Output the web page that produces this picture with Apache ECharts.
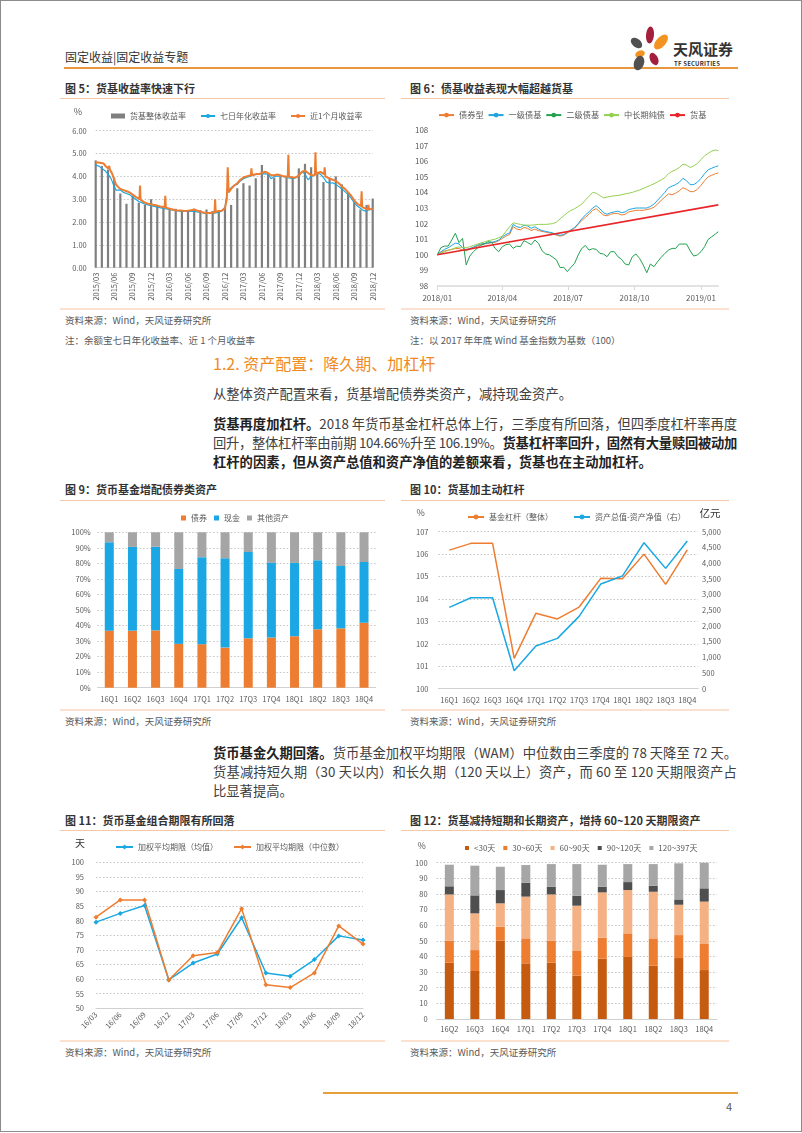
<!DOCTYPE html>
<html><head><meta charset="utf-8">
<script src="https://cdn.jsdelivr.net/npm/echarts@6/dist/echarts.min.js"></script>
<style>
html,body{margin:0;padding:0;background:#fff;}
body{width:802px;height:1133px;position:relative;overflow:hidden;font-family:"Noto Sans CJK SC","Noto Sans",sans-serif;color:#333;}
.abs{position:absolute;white-space:nowrap;}
.frame{position:absolute;left:0;top:0;width:800px;height:1130px;border:1px solid #8c8c8c;}
.ftitle{font-size:11px;font-weight:bold;color:#333;line-height:14px;}
.src{font-size:9.5px;color:#595959;line-height:12px;}
.para{font-size:13.3px;color:#404040;line-height:18px;}
.para b{color:#222;font-weight:bold;}
.chart{position:absolute;}
.tl{position:absolute;height:1px;background:#f4c7a6;}
.bl{position:absolute;height:2px;background:#fbe1cf;}
</style></head>
<body>
<div class="frame"></div>
<!-- header -->
<div class="abs" style="left:65px;top:49px;font-size:12px;line-height:16px;color:#333;">固定收益|固定收益专题</div>
<div class="abs" style="left:64px;top:67px;width:674px;height:2px;background:#e8973c;"></div>
<svg class="abs" style="left:624px;top:22px" width="50" height="52" viewBox="624 22 50 52">
<ellipse cx="650" cy="35" rx="4" ry="8.5" fill="#a31f3d" transform="rotate(5 650 35)"/>
<ellipse cx="661" cy="42" rx="4.8" ry="9" fill="#f39322" transform="rotate(42 661 42)"/>
<ellipse cx="636.5" cy="43" rx="4.3" ry="6.5" fill="#505050" transform="rotate(-50 636.5 43)"/>
<ellipse cx="640" cy="54" rx="5" ry="3.4" fill="#f39322" transform="rotate(-20 640 54)"/>
<ellipse cx="639" cy="63" rx="5" ry="7.5" fill="#505050" transform="rotate(20 639 63)"/>
<ellipse cx="654" cy="59" rx="4" ry="6.5" fill="#a31f3d" transform="rotate(-25 654 59)"/>
</svg>
<div class="abs" style="left:673px;top:40px;font-size:15px;line-height:18px;color:#333;font-weight:bold;">天风证券</div>
<div class="abs" style="left:674px;top:60px;font-size:6px;line-height:7px;color:#333;font-weight:bold;letter-spacing:0.2px;">TF SECURITIES</div>

<!-- figure 5/6 frames -->
<div class="abs ftitle" style="left:65px;top:81px;">图 5：货基收益率快速下行</div>
<div class="tl" style="left:60px;top:98px;width:325px;"></div>
<div class="bl" style="left:60px;top:308px;width:325px;"></div>
<div class="abs src" style="left:65px;top:314px;">资料来源：Wind，天风证券研究所</div>
<div class="abs src" style="left:65px;top:334px;">注：余额宝七日年化收益率、近 1 个月收益率</div>

<div class="abs ftitle" style="left:410px;top:81px;">图 6：债基收益表现大幅超越货基</div>
<div class="tl" style="left:401px;top:98px;width:328px;"></div>
<div class="bl" style="left:401px;top:308px;width:328px;"></div>
<div class="abs src" style="left:410px;top:314px;">资料来源：Wind，天风证券研究所</div>
<div class="abs src" style="left:410px;top:334px;">注：以 2017 年年底 Wind 基金指数为基数（100）</div>

<!-- section text -->
<div class="abs" style="left:213px;top:353px;font-size:16px;line-height:20px;color:#f08a24;">1.2. 资产配置：降久期、加杠杆</div>
<div class="abs para" style="left:213px;top:385px;">从整体资产配置来看，货基增配债券类资产，减持现金资产。</div>
<div class="abs para j" data-w="524" style="left:213px;top:415px;"><b>货基再度加杠杆。</b>2018 年货币基金杠杆总体上行，三季度有所回落，但四季度杠杆率再度</div>
<div class="abs para j" data-w="524" style="left:213px;top:434px;">回升，整体杠杆率由前期 104.66%升至 106.19%。<b>货基杠杆率回升，固然有大量赎回被动加</b></div>
<div class="abs para" style="left:213px;top:453px;"><b>杠杆的因素，但从资产总值和资产净值的差额来看，货基也在主动加杠杆。</b></div>

<!-- figure 9/10 frames -->
<div class="abs ftitle" style="left:65px;top:482px;">图 9：货币基金增配债券类资产</div>
<div class="tl" style="left:60px;top:500px;width:325px;"></div>
<div class="bl" style="left:60px;top:709px;width:325px;"></div>
<div class="abs src" style="left:65px;top:715px;">资料来源：Wind，天风证券研究所</div>

<div class="abs ftitle" style="left:410px;top:482px;">图 10：货基加主动杠杆</div>
<div class="tl" style="left:401px;top:500px;width:328px;"></div>
<div class="bl" style="left:401px;top:709px;width:328px;"></div>
<div class="abs src" style="left:410px;top:715px;">资料来源：Wind，天风证券研究所</div>

<div class="abs para j" data-w="524" style="left:213px;top:744px;"><b>货币基金久期回落。</b>货币基金加权平均期限（WAM）中位数由三季度的 78 天降至 72 天。</div>
<div class="abs para j" data-w="524" style="left:213px;top:763px;">货基减持短久期（30 天以内）和长久期（120 天以上）资产，而 60 至 120 天期限资产占</div>
<div class="abs para" style="left:213px;top:782px;">比显著提高。</div>

<!-- figure 11/12 frames -->
<div class="abs ftitle" style="left:65px;top:813px;">图 11：货币基金组合期限有所回落</div>
<div class="tl" style="left:60px;top:830px;width:325px;"></div>
<div class="bl" style="left:60px;top:1040px;width:325px;"></div>
<div class="abs src" style="left:65px;top:1046px;">资料来源：Wind，天风证券研究所</div>

<div class="abs ftitle" style="left:410px;top:813px;">图 12：货基减持短期和长期资产，增持 60~120 天期限资产</div>
<div class="tl" style="left:401px;top:830px;width:328px;"></div>
<div class="bl" style="left:401px;top:1040px;width:328px;"></div>
<div class="abs src" style="left:410px;top:1046px;">资料来源：Wind，天风证券研究所</div>

<!-- footer -->
<div class="abs" style="left:323px;top:1092px;width:415px;height:2px;background:#e5a03c;"></div>
<div class="abs" style="left:726px;top:1099px;font-size:11px;line-height:14px;color:#595959;">4</div>

<script>
// ---------------- DATA ----------------
// Fig 5: monthly bars 2015/03 .. 2018/12 (index 0..45)
const fig5Ticks = ['2015/03','2015/06','2015/09','2015/12','2016/03','2016/06','2016/09','2016/12','2017/03','2017/06','2017/09','2017/12','2018/03','2018/06','2018/09','2018/12'];
const fig5Bars = [4.70,4.45,4.30,3.95,3.25,2.80,3.15,2.85,2.75,3.00,
  2.72,2.68,2.62,2.58,2.52,2.50,2.58,2.52,2.55,2.48,2.50,2.62,
  2.75,3.48,3.70,3.60,3.92,4.50,4.10,3.95,4.00,3.95,3.90,4.35,
  4.55,4.40,4.20,3.75,3.95,4.00,3.65,3.30,2.90,2.55,2.75,3.03];
// [month index, value]
const fig5Yield7d = [[0,4.5],[0.5,4.45],[1,4.35],[1.5,4.25],[2,4.1],[2.5,3.9],[3,3.55],[3.3,3.4],[3.6,3.45],[4,3.4],[4.5,3.3],[5,3.25],[5.5,3.2],[6,3.1],[6.5,3.0],[7,2.9],[7.5,2.85],[8,2.78],[9,2.72],[10,2.65],[11,2.6],[12,2.55],[13,2.5],[14,2.47],[15,2.47],[16,2.47],[17,2.42],[18,2.38],[19,2.38],[20,2.42],[20.5,2.5],[21,2.65],[21.3,3.2],[21.6,3.4],[22,3.5],[22.5,3.6],[23,3.65],[23.5,3.8],[24,3.9],[24.5,3.95],[25,4.0],[26,4.08],[27,4.12],[28,4.1],[28.5,3.9],[29,4.0],[30,4.02],[31,3.95],[32,3.9],[33,4.0],[33.5,4.2],[34,4.1],[34.5,3.85],[35,4.0],[35.5,4.05],[36,4.15],[36.5,4.1],[37,3.95],[37.5,3.75],[38,3.7],[38.5,3.72],[39,3.65],[40,3.45],[41,3.2],[41.5,3.05],[42,2.85],[42.5,2.7],[43,2.6],[43.5,2.5],[44,2.48],[44.5,2.55],[45,2.55]];
const fig5Yield1m = [[0,4.62],[0.3,4.55],[0.7,4.6],[1,4.52],[1.3,4.56],[1.6,4.45],[2,4.35],[2.1,4.36],[2.2,4.46],[2.3,4.3],[2.7,4.1],[3,3.85],[3.3,3.65],[3.6,3.55],[4,3.45],[4.5,3.4],[5,3.35],[5.5,3.3],[6,3.2],[6.5,3.1],[7.1,3.0],[7.2,3.6],[7.3,2.97],[8,2.85],[8.5,2.8],[9,2.78],[9.5,2.75],[10,2.72],[10.5,2.68],[11.2,2.65],[11.3,3.15],[11.4,2.63],[12,2.58],[12.5,2.55],[13,2.52],[13.5,2.5],[14,2.5],[14.5,2.48],[15,2.5],[15.5,2.52],[16,2.55],[16.5,2.5],[17,2.45],[17.5,2.42],[18,2.4],[18.5,2.4],[19.3,2.42],[19.4,3.0],[19.5,2.45],[20,2.48],[20.5,2.5],[21,2.6],[21.3,3.0],[21.45,4.4],[21.6,3.3],[22,3.45],[22.5,3.6],[23,3.7],[23.5,3.85],[24,3.95],[24.5,4.0],[25.2,4.05],[25.3,4.35],[25.4,4.05],[26,4.1],[26.5,4.1],[27,4.15],[27.5,4.2],[28,4.15],[28.5,4.05],[29,4.05],[29.5,4.08],[30,4.05],[30.5,4.0],[31.2,3.98],[31.3,4.95],[31.4,3.98],[32,3.95],[32.5,3.95],[33,4.05],[33.5,4.2],[34,4.25],[34.5,4.15],[35,4.05],[35.6,4.05],[35.7,5.05],[35.8,4.1],[36,4.15],[36.5,4.2],[37.1,4.1],[37.2,4.4],[37.3,4.0],[38,3.9],[38.5,3.85],[39,3.8],[39.5,3.7],[40,3.55],[40.5,3.45],[41,3.3],[41.5,3.15],[42,2.95],[42.5,2.8],[43.1,2.7],[43.2,3.35],[43.3,2.65],[44.2,2.55],[44.3,2.75],[44.4,2.55],[45,2.58]];

// Fig 6: days since 2018-01-01
const fig6Days = [0,5,10,15,20,25,30,35,40,45,50,55,60,65,70,75,80,85,90,95,100,105,110,115,120,125,130,135,140,145,150,155,160,165,170,175,180,185,190,195,200,205,210,215,220,225,230,235,240,245,250,255,260,265,270,275,280,285,290,295,300,305,310,315,320,325,330,335,340,345,350,355,360,365,370,375,380,385,389];
const fig6TickDays = [0,90,181,273,365];
const fig6TickLabels = ['2018/01','2018/04','2018/07','2018/10','2019/01'];
const fig6Bond = [100.0,100.15,100.25,100.3,100.35,100.4,100.4,100.3,100.25,100.35,
  100.45,100.55,100.65,100.7,100.72,100.78,100.8,100.9,101.05,101.2,
  101.3,101.8,101.65,101.6,101.75,101.7,101.55,101.65,101.55,101.5,
  101.45,101.4,101.35,101.25,101.2,101.25,101.4,101.55,101.7,101.95,
  102.2,102.4,102.6,102.85,102.95,102.75,102.55,102.5,102.6,102.65,
  102.65,102.55,102.6,102.75,102.8,102.85,102.85,102.85,102.9,102.95,
  103.05,103.25,103.5,103.7,103.9,103.85,103.95,104.1,104.3,104.2,
  104.05,104.05,104.2,104.45,104.75,105.0,105.1,105.2,105.25];
const fig6Primary = [100.0,100.2,100.35,100.45,100.6,100.75,100.7,100.45,100.3,100.4,
  100.5,100.6,100.7,100.72,100.75,100.8,100.85,100.95,101.15,101.3,
  101.4,101.95,101.8,101.75,101.9,101.85,101.7,101.8,101.65,101.55,
  101.5,101.45,101.4,101.3,101.25,101.3,101.45,101.6,101.75,102.0,
  102.3,102.55,102.75,103.0,103.15,102.95,102.7,102.6,102.7,102.75,
  102.8,102.7,102.75,102.9,102.95,103.0,103.0,103.0,103.0,103.1,
  103.25,103.5,103.75,104.0,104.3,104.4,104.5,104.65,104.9,104.75,
  104.5,104.5,104.65,104.9,105.2,105.45,105.55,105.65,105.7];
const fig6Secondary = [100.0,100.46,100.56,100.56,100.95,101.38,100.78,101.05,99.35,99.92,
  100.2,100.41,100.6,100.69,100.84,100.82,100.41,100.2,100.52,100.65,
  100.69,100.41,100.56,100.52,100.91,100.78,100.65,100.95,100.74,100.26,
  100.05,100.0,99.84,99.67,99.18,99.2,98.92,99.2,99.45,99.99,
  100.41,100.6,100.3,100.39,100.35,100.09,100.05,99.88,100.2,100.2,
  99.88,99.71,99.41,99.35,99.88,100.05,99.77,99.35,98.85,99.41,
  99.24,99.56,99.84,100.09,100.3,100.41,100.41,100.69,100.69,100.69,
  100.26,99.92,99.99,100.2,100.52,100.99,101.16,101.33,101.48];
const fig6PureLong = [100.0,100.1,100.2,100.28,100.35,100.45,100.5,100.48,100.45,100.52,
  100.6,100.68,100.75,100.82,100.9,100.95,101.0,101.1,101.2,101.5,
  101.8,102.05,102.0,101.95,101.9,101.9,101.9,101.92,101.95,101.95,
  101.95,101.97,102.0,102.1,102.3,102.5,102.7,102.85,102.95,103.1,
  103.25,103.5,103.75,104.0,103.95,103.8,103.65,103.7,103.75,103.78,
  103.8,103.85,103.9,103.95,104.0,104.08,104.15,104.25,104.35,104.45,
  104.55,104.68,104.8,104.95,105.2,105.35,105.45,105.6,105.8,105.75,
  105.6,105.7,105.85,106.1,106.35,106.5,106.65,106.72,106.68];
const fig6MoneyDays = [0,389];
const fig6Money = [100.0,103.2];

// Fig 9
const fig9Cats = ['16Q1','16Q2','16Q3','16Q4','17Q1','17Q2','17Q3','17Q4','18Q1','18Q2','18Q3','18Q4'];
const fig9Bond = [36.7,36.7,36.9,28.2,28.0,25.8,31.8,32.3,33.1,37.6,38.2,41.8];
const fig9Cash = [56.9,53.9,53.8,48.2,55.9,57.5,55.5,48.0,47.2,44.4,40.1,39.1];
const fig9Other = [6.4,9.4,9.3,23.6,16.1,16.7,12.7,19.7,19.7,18.0,21.7,19.1];

// Fig 10
const fig10Cats = ['16Q1','16Q2','16Q3','16Q4','17Q1','17Q2','17Q3','17Q4','18Q1','18Q2','18Q3','18Q4'];
const fig10Leverage = [106.18,106.48,106.48,101.35,103.36,103.11,103.64,104.92,104.90,106.0,104.65,106.19];
const fig10Gap = [2590,2898,2898,573,1359,1603,2304,3333,3588,4650,3832,4703];

// Fig 11
const fig11Cats = ['16/03','16/06','16/09','16/12','17/03','17/06','17/09','17/12','18/03','18/06','18/09','18/12'];
const fig11Mean = [79.5,82.5,85.2,59.7,65.5,68.6,81.0,62.1,61.0,66.7,74.8,73.4];
const fig11Median = [81.2,87.1,87.1,59.7,68.0,69.1,84.1,58.1,57.1,62.1,78.2,72.0];

// Fig 12
const fig12Cats = ['16Q2','16Q3','16Q4','17Q1','17Q2','17Q3','17Q4','18Q1','18Q2','18Q3','18Q4'];
const fig12Lt30 = [36.0,30.7,50.1,35.6,36.0,27.7,38.6,39.7,34.1,39.0,31.3];
const fig12D30to60 = [14.1,13.4,9.0,16.0,14.1,15.8,13.4,15.1,17.5,14.7,16.7];
const fig12D60to90 = [29.6,23.5,14.9,26.7,29.6,29.0,29.0,27.7,29.8,19.4,27.1];
const fig12D90to120 = [5.2,11.5,8.5,8.9,4.9,6.4,3.6,5.1,3.9,3.4,8.5];
const fig12D120to397 = [13.8,19.0,14.9,11.3,14.5,20.2,14.1,11.5,13.8,23.1,16.4];

// ---------------- HELPERS ----------------
const FF = '"Noto Sans CJK SC","Noto Sans",sans-serif';
const LBL = {fontSize:7.5, color:'#595959', fontFamily:FF};
const DOT = {show:true, lineStyle:{color:'#c4c4c4', type:[1.5,2], width:1}};
const AXL = {show:true, lineStyle:{color:'#d0d0d0', width:1}};
function mk(x,y,w,h){
  const d=document.createElement('div'); d.className='chart';
  d.style.cssText='left:'+x+'px;top:'+y+'px;width:'+w+'px;height:'+h+'px';
  document.body.appendChild(d);
  const c=echarts.init(d,null,{renderer:'canvas'}); c.x0=x; c.y0=y; return c;
}
function G(c,L,T,R,B){return {left:L-c.x0, top:T-c.y0, width:R-L, height:B-T};}
function T(c,x,y,text,size,color,align){
  return {type:'text', x:x-c.x0, y:y-c.y0, style:{text:text, fontSize:size, fill:color||'#595959', fontFamily:FF, align:align||'center', verticalAlign:'middle'}};
}
const legendText = {fontSize:8, color:'#595959', fontFamily:FF};
const zip = (xs,ys)=>xs.map((x,i)=>[x,ys[i]]);

// ---------------- FIG 5 ----------------
(function(){
  const c = mk(60,100,330,212);
  c.setOption({
    animation:false,
    grid:G(c,95.7,130.7,372.7,267.7),
    graphic:[T(c,78,112,'%',9)],
    legend:{left:46,top:7,itemWidth:14,itemHeight:5,itemGap:14,textStyle:legendText,
      data:[{name:'货基整体收益率',icon:'rect'},'七日年化收益率','近1个月收益率']},
    xAxis:{type:'value',min:0,max:45,interval:3,axisLine:AXL,axisTick:{show:false},splitLine:{show:false},
      axisLabel:Object.assign({},LBL,{rotate:90,margin:5,formatter:v=>fig5Ticks[Math.round(v/3)]||''})},
    yAxis:{type:'value',min:0,max:6,interval:1,axisLine:{show:false},axisTick:{show:false},splitLine:DOT,
      axisLabel:Object.assign({},LBL,{margin:9,formatter:v=>v.toFixed(2)})},
    series:[
      {name:'货基整体收益率',type:'bar',barWidth:2.2,itemStyle:{color:'#7f7f7f'},data:fig5Bars.map((v,i)=>[i,v])},
      {name:'七日年化收益率',type:'line',symbol:'none',lineStyle:{color:'#1aa7e2',width:1.2},itemStyle:{color:'#1aa7e2'},data:fig5Yield7d},
      {name:'近1个月收益率',type:'line',symbol:'none',lineStyle:{color:'#ed7d31',width:2},itemStyle:{color:'#ed7d31'},data:fig5Yield1m}
    ]
  });
})();

// ---------------- FIG 6 ----------------
(function(){
  const c = mk(400,100,340,212);
  const ln = (name,col,data,w)=>({name:name,type:'line',symbol:'none',lineStyle:{color:col,width:w||1},itemStyle:{color:col},data:data});
  c.setOption({
    animation:false,
    grid:G(c,437.3,130,718.3,286),
    legend:{left:33,top:6,itemWidth:15,itemHeight:6,itemGap:4,textStyle:Object.assign({},legendText,{fontSize:8.2})},
    xAxis:{type:'value',min:0,max:389,axisLine:{show:true,lineStyle:{color:'#d9d9d9',width:1.5}},
      axisTick:{show:true,length:4,lineStyle:{color:'#d9d9d9'},customValues:fig6TickDays},
      splitLine:{show:false},
      axisLabel:Object.assign({},LBL,{fontSize:8,margin:8,customValues:fig6TickDays,formatter:v=>{const i=fig6TickDays.indexOf(v);return i<0?'':fig6TickLabels[i];}})},
    yAxis:{type:'value',min:98,max:108,interval:1,axisLine:{show:false},axisTick:{show:false},splitLine:{show:false},
      axisLabel:Object.assign({},LBL,{fontSize:8,margin:9})},
    series:[
      ln('债券型','#ed7d31',zip(fig6Days,fig6Bond)),
      ln('一级债基','#1ea5e0',zip(fig6Days,fig6Primary)),
      ln('二级债基','#22a14e',zip(fig6Days,fig6Secondary)),
      ln('中长期纯债','#92d050',zip(fig6Days,fig6PureLong)),
      ln('货基','#e8262a',zip(fig6MoneyDays,fig6Money),1.6)
    ]
  });
})();

// ---------------- FIG 9 ----------------
(function(){
  const c = mk(60,500,340,212);
  const bar = (name,col,data)=>({name:name,type:'bar',stack:'a',barWidth:9,itemStyle:{color:col},data:data});
  c.setOption({
    animation:false,
    grid:G(c,97.7,532.3,375.6,687.7),
    legend:{left:116,top:9,itemWidth:5,itemHeight:5,itemGap:7,icon:'rect',textStyle:legendText},
    xAxis:{type:'category',data:fig9Cats,axisLine:AXL,axisTick:{show:false},axisLabel:Object.assign({},LBL,{margin:8,interval:0})},
    yAxis:{type:'value',min:0,max:100,interval:10,axisLine:{show:false},axisTick:{show:false},splitLine:DOT,
      axisLabel:Object.assign({},LBL,{margin:7,formatter:v=>v+'%'})},
    series:[bar('债券','#ed7d31',fig9Bond),bar('现金','#1aa7e4',fig9Cash),bar('其他资产','#a5a5a5',fig9Other)]
  });
})();

// ---------------- FIG 10 ----------------
(function(){
  const c = mk(400,500,340,212);
  c.setOption({
    animation:false,
    grid:G(c,438.5,531.7,698.1,688.7),
    graphic:[T(c,420.7,513,'%',9),T(c,710,513,'亿元',10.5,'#333')],
    legend:{left:62,top:8,itemWidth:16,itemHeight:6,itemGap:20,textStyle:legendText},
    xAxis:{type:'category',data:fig10Cats,axisLine:AXL,axisTick:{show:false},axisLabel:Object.assign({},LBL,{margin:8,interval:0})},
    yAxis:[
      {type:'value',min:100,max:107,interval:1,axisLine:{show:false},axisTick:{show:false},splitLine:DOT,axisLabel:Object.assign({},LBL,{margin:10})},
      {type:'value',min:0,max:5000,interval:500,position:'right',axisLine:{show:false},axisTick:{show:false},splitLine:{show:false},
        axisLabel:Object.assign({},LBL,{margin:4,formatter:v=>v.toLocaleString('en-US')})}
    ],
    series:[
      {name:'基金杠杆（整体）',type:'line',symbol:'none',lineStyle:{color:'#ed7d31',width:1.5},itemStyle:{color:'#ed7d31'},data:fig10Leverage},
      {name:'资产总值-资产净值（右）',type:'line',yAxisIndex:1,symbol:'none',lineStyle:{color:'#1aa7e2',width:1.5},itemStyle:{color:'#1aa7e2'},data:fig10Gap}
    ]
  });
})();

// ---------------- FIG 11 ----------------
(function(){
  const c = mk(60,830,340,215);
  const ln = (name,col,data)=>({name:name,type:'line',symbol:'diamond',symbolSize:5,lineStyle:{color:col,width:1.5},itemStyle:{color:col},data:data});
  c.setOption({
    animation:false,
    grid:G(c,96,862.3,363,1008.3),
    graphic:[T(c,80,843,'天',10,'#333')],
    legend:{left:50,top:8,itemWidth:17,itemHeight:6,itemGap:15,textStyle:legendText},
    xAxis:{type:'category',boundaryGap:false,data:fig11Cats,axisLine:AXL,axisTick:{show:false},
      axisLabel:Object.assign({},LBL,{rotate:45,margin:5,interval:0})},
    yAxis:{type:'value',min:50,max:100,interval:5,axisLine:{show:false},axisTick:{show:false},splitLine:DOT,
      axisLabel:Object.assign({},LBL,{margin:12})},
    series:[ln('加权平均期限（均值）','#1aa7e2',fig11Mean),ln('加权平均期限（中位数）','#ed7d31',fig11Median)]
  });
})();

// ---------------- FIG 12 ----------------
(function(){
  const c = mk(400,830,340,205);
  const bar = (name,col,data)=>({name:name,type:'bar',stack:'a',barWidth:9,itemStyle:{color:col},data:data});
  c.setOption({
    animation:false,
    grid:G(c,436.6,862.7,717,1019),
    graphic:[T(c,421.7,846,'%',9)],
    legend:{left:60,top:9,itemWidth:4,itemHeight:4,itemGap:8,icon:'rect',textStyle:legendText},
    xAxis:{type:'category',data:fig12Cats,axisLine:AXL,axisTick:{show:false},axisLabel:Object.assign({},LBL,{margin:6,interval:0})},
    yAxis:{type:'value',min:0,max:100,interval:10,axisLine:{show:false},axisTick:{show:false},splitLine:DOT,
      axisLabel:Object.assign({},LBL,{margin:9})},
    series:[
      bar('<30天','#c55a11',fig12Lt30),
      bar('30~60天','#ed7d31',fig12D30to60),
      bar('60~90天','#f4b183',fig12D60to90),
      bar('90~120天','#4f4f4f',fig12D90to120),
      bar('120~397天','#a6a6a6',fig12D120to397)
    ]
  });
})();

// justify paragraph lines to the text column width
function fit(){
  document.querySelectorAll('.j').forEach(el=>{
    el.style.letterSpacing='0px';
    const w=el.getBoundingClientRect().width;
    const n=el.textContent.length;
    el.style.letterSpacing=((+el.dataset.w - w)/n)+'px';
  });
}
fit();
if(document.fonts&&document.fonts.ready) document.fonts.ready.then(fit);
</script>
</body></html>
